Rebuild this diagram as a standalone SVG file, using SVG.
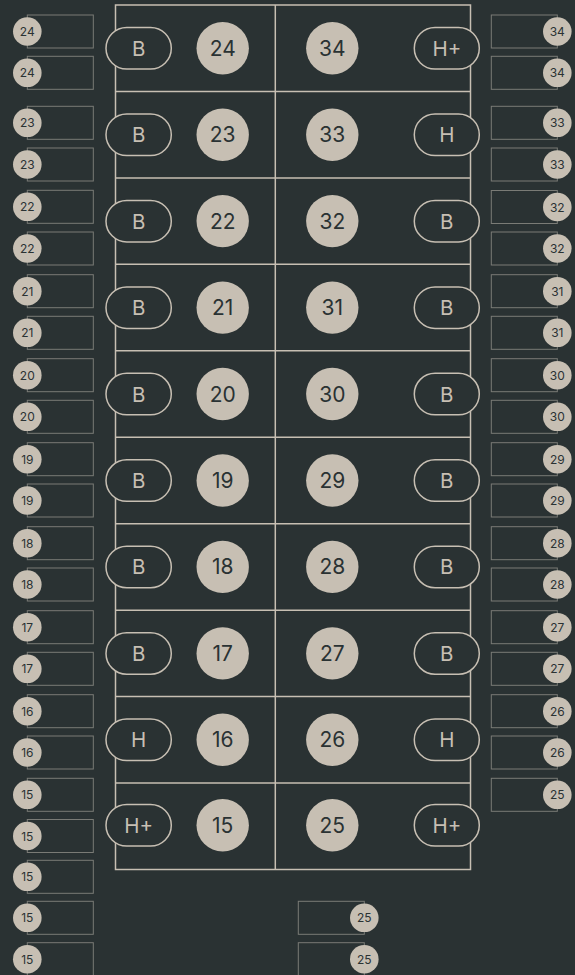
<svg xmlns="http://www.w3.org/2000/svg" width="575" height="975" viewBox="0 0 575 975">
<style>
.bg{fill:#2a3233}
.frame{fill:none;stroke:#c7bfb3;stroke-width:1.5}
.div{stroke:#c7bfb3;stroke-width:1.5}
.pill{fill:#2a3233;stroke:#c7bfb3;stroke-width:1.5}
.ptxt{fill:#c7bfb3;font-family:Inter,"Noto Sans",sans-serif;font-size:20.5px;text-anchor:middle;dominant-baseline:central}
.big{fill:#c7bfb3}
.btxt{fill:#2a3233;font-family:Inter,"Noto Sans",sans-serif;font-size:21px;text-anchor:middle;dominant-baseline:central}
.box{fill:none;stroke:#7a7b76;stroke-width:1}
.sm{fill:#c7bfb3}
.stxt{fill:#2a3233;font-family:Inter,"Noto Sans",sans-serif;font-size:12px;text-anchor:middle;dominant-baseline:central}
</style>
<defs>
<g id="lb"><rect class="box" x="27.3" y="0" width="66" height="33"/><circle class="sm" cx="27.3" cy="16.5" r="14.3"/></g>
<g id="rb"><rect class="box" x="491.3" y="0" width="66" height="33"/><circle class="sm" cx="557.3" cy="16.5" r="14.3"/></g>
<g id="bb"><rect class="box" x="298.3" y="0" width="66" height="33"/><circle class="sm" cx="364.3" cy="16.5" r="14.3"/></g>
</defs>
<rect class="bg" x="0" y="0" width="575" height="975"/>
<g id="connectors">
<rect class="frame" x="115.5" y="5" width="355" height="864.5"/>
<line class="div" x1="275.3" y1="5" x2="275.3" y2="869.5"/>
<line class="div" x1="115.5" y1="91.45" x2="470.5" y2="91.45"/>
<line class="div" x1="115.5" y1="177.9" x2="470.5" y2="177.9"/>
<line class="div" x1="115.5" y1="264.35" x2="470.5" y2="264.35"/>
<line class="div" x1="115.5" y1="350.8" x2="470.5" y2="350.8"/>
<line class="div" x1="115.5" y1="437.25" x2="470.5" y2="437.25"/>
<line class="div" x1="115.5" y1="523.7" x2="470.5" y2="523.7"/>
<line class="div" x1="115.5" y1="610.15" x2="470.5" y2="610.15"/>
<line class="div" x1="115.5" y1="696.6" x2="470.5" y2="696.6"/>
<line class="div" x1="115.5" y1="783.05" x2="470.5" y2="783.05"/>
</g>
<g id="row24"><rect class="pill" x="106" y="27.5" width="65.3" height="41.5" rx="20.75"/><text class="ptxt" x="138.7" y="48.2">B</text><circle class="big" cx="222.7" cy="48.2" r="26.2"/><text class="btxt" x="222.7" y="48.2">24</text><circle class="big" cx="332.3" cy="48.2" r="26.2"/><text class="btxt" x="332.3" y="48.2">34</text><rect class="pill" x="414.3" y="27.5" width="65" height="41.5" rx="20.75"/><text class="ptxt" x="446.8" y="48.2">H+</text></g>
<g id="row23"><rect class="pill" x="106" y="114" width="65.3" height="41.5" rx="20.75"/><text class="ptxt" x="138.7" y="134.7">B</text><circle class="big" cx="222.7" cy="134.7" r="26.2"/><text class="btxt" x="222.7" y="134.7">23</text><circle class="big" cx="332.3" cy="134.7" r="26.2"/><text class="btxt" x="332.3" y="134.7">33</text><rect class="pill" x="414.3" y="114" width="65" height="41.5" rx="20.75"/><text class="ptxt" x="446.8" y="134.7">H</text></g>
<g id="row22"><rect class="pill" x="106" y="200.4" width="65.3" height="41.5" rx="20.75"/><text class="ptxt" x="138.7" y="221.1">B</text><circle class="big" cx="222.7" cy="221.1" r="26.2"/><text class="btxt" x="222.7" y="221.1">22</text><circle class="big" cx="332.3" cy="221.1" r="26.2"/><text class="btxt" x="332.3" y="221.1">32</text><rect class="pill" x="414.3" y="200.4" width="65" height="41.5" rx="20.75"/><text class="ptxt" x="446.8" y="221.1">B</text></g>
<g id="row21"><rect class="pill" x="106" y="286.9" width="65.3" height="41.5" rx="20.75"/><text class="ptxt" x="138.7" y="307.6">B</text><circle class="big" cx="222.7" cy="307.6" r="26.2"/><text class="btxt" x="222.7" y="307.6">21</text><circle class="big" cx="332.3" cy="307.6" r="26.2"/><text class="btxt" x="332.3" y="307.6">31</text><rect class="pill" x="414.3" y="286.9" width="65" height="41.5" rx="20.75"/><text class="ptxt" x="446.8" y="307.6">B</text></g>
<g id="row20"><rect class="pill" x="106" y="373.3" width="65.3" height="41.5" rx="20.75"/><text class="ptxt" x="138.7" y="394">B</text><circle class="big" cx="222.7" cy="394" r="26.2"/><text class="btxt" x="222.7" y="394">20</text><circle class="big" cx="332.3" cy="394" r="26.2"/><text class="btxt" x="332.3" y="394">30</text><rect class="pill" x="414.3" y="373.3" width="65" height="41.5" rx="20.75"/><text class="ptxt" x="446.8" y="394">B</text></g>
<g id="row19"><rect class="pill" x="106" y="459.8" width="65.3" height="41.5" rx="20.75"/><text class="ptxt" x="138.7" y="480.5">B</text><circle class="big" cx="222.7" cy="480.5" r="26.2"/><text class="btxt" x="222.7" y="480.5">19</text><circle class="big" cx="332.3" cy="480.5" r="26.2"/><text class="btxt" x="332.3" y="480.5">29</text><rect class="pill" x="414.3" y="459.8" width="65" height="41.5" rx="20.75"/><text class="ptxt" x="446.8" y="480.5">B</text></g>
<g id="row18"><rect class="pill" x="106" y="546.2" width="65.3" height="41.5" rx="20.75"/><text class="ptxt" x="138.7" y="566.9">B</text><circle class="big" cx="222.7" cy="566.9" r="26.2"/><text class="btxt" x="222.7" y="566.9">18</text><circle class="big" cx="332.3" cy="566.9" r="26.2"/><text class="btxt" x="332.3" y="566.9">28</text><rect class="pill" x="414.3" y="546.2" width="65" height="41.5" rx="20.75"/><text class="ptxt" x="446.8" y="566.9">B</text></g>
<g id="row17"><rect class="pill" x="106" y="632.7" width="65.3" height="41.5" rx="20.75"/><text class="ptxt" x="138.7" y="653.4">B</text><circle class="big" cx="222.7" cy="653.4" r="26.2"/><text class="btxt" x="222.7" y="653.4">17</text><circle class="big" cx="332.3" cy="653.4" r="26.2"/><text class="btxt" x="332.3" y="653.4">27</text><rect class="pill" x="414.3" y="632.7" width="65" height="41.5" rx="20.75"/><text class="ptxt" x="446.8" y="653.4">B</text></g>
<g id="row16"><rect class="pill" x="106" y="719" width="65.3" height="41.5" rx="20.75"/><text class="ptxt" x="138.7" y="739.7">H</text><circle class="big" cx="222.7" cy="739.7" r="26.2"/><text class="btxt" x="222.7" y="739.7">16</text><circle class="big" cx="332.3" cy="739.7" r="26.2"/><text class="btxt" x="332.3" y="739.7">26</text><rect class="pill" x="414.3" y="719" width="65" height="41.5" rx="20.75"/><text class="ptxt" x="446.8" y="739.7">H</text></g>
<g id="row15"><rect class="pill" x="106" y="804.5" width="65.3" height="41.5" rx="20.75"/><text class="ptxt" x="138.7" y="825.2">H+</text><circle class="big" cx="222.7" cy="825.2" r="26.2"/><text class="btxt" x="222.7" y="825.2">15</text><circle class="big" cx="332.3" cy="825.2" r="26.2"/><text class="btxt" x="332.3" y="825.2">25</text><rect class="pill" x="414.3" y="804.5" width="65" height="41.5" rx="20.75"/><text class="ptxt" x="446.8" y="825.2">H+</text></g>
<g id="left-terminals">
<g transform="translate(0,15)"><use href="#lb"/><text class="stxt" x="27.3" y="16.5">24</text></g>
<g transform="translate(0,56.3)"><use href="#lb"/><text class="stxt" x="27.3" y="16.5">24</text></g>
<g transform="translate(0,106.3)"><use href="#lb"/><text class="stxt" x="27.3" y="16.5">23</text></g>
<g transform="translate(0,148)"><use href="#lb"/><text class="stxt" x="27.3" y="16.5">23</text></g>
<g transform="translate(0,190.3)"><use href="#lb"/><text class="stxt" x="27.3" y="16.5">22</text></g>
<g transform="translate(0,232)"><use href="#lb"/><text class="stxt" x="27.3" y="16.5">22</text></g>
<g transform="translate(0,274.7)"><use href="#lb"/><text class="stxt" x="27.3" y="16.5">21</text></g>
<g transform="translate(0,316.3)"><use href="#lb"/><text class="stxt" x="27.3" y="16.5">21</text></g>
<g transform="translate(0,358.7)"><use href="#lb"/><text class="stxt" x="27.3" y="16.5">20</text></g>
<g transform="translate(0,400.3)"><use href="#lb"/><text class="stxt" x="27.3" y="16.5">20</text></g>
<g transform="translate(0,442.7)"><use href="#lb"/><text class="stxt" x="27.3" y="16.5">19</text></g>
<g transform="translate(0,484)"><use href="#lb"/><text class="stxt" x="27.3" y="16.5">19</text></g>
<g transform="translate(0,526.7)"><use href="#lb"/><text class="stxt" x="27.3" y="16.5">18</text></g>
<g transform="translate(0,568)"><use href="#lb"/><text class="stxt" x="27.3" y="16.5">18</text></g>
<g transform="translate(0,610.7)"><use href="#lb"/><text class="stxt" x="27.3" y="16.5">17</text></g>
<g transform="translate(0,652.3)"><use href="#lb"/><text class="stxt" x="27.3" y="16.5">17</text></g>
<g transform="translate(0,694.7)"><use href="#lb"/><text class="stxt" x="27.3" y="16.5">16</text></g>
<g transform="translate(0,736)"><use href="#lb"/><text class="stxt" x="27.3" y="16.5">16</text></g>
<g transform="translate(0,778.3)"><use href="#lb"/><text class="stxt" x="27.3" y="16.5">15</text></g>
<g transform="translate(0,819.5)"><use href="#lb"/><text class="stxt" x="27.3" y="16.5">15</text></g>
<g transform="translate(0,860.3)"><use href="#lb"/><text class="stxt" x="27.3" y="16.5">15</text></g>
<g transform="translate(0,901.3)"><use href="#lb"/><text class="stxt" x="27.3" y="16.5">15</text></g>
<g transform="translate(0,942.7)"><use href="#lb"/><text class="stxt" x="27.3" y="16.5">15</text></g>
</g>
<g id="right-terminals">
<g transform="translate(0,15)"><use href="#rb"/><text class="stxt" x="557.3" y="16.5">34</text></g>
<g transform="translate(0,56.3)"><use href="#rb"/><text class="stxt" x="557.3" y="16.5">34</text></g>
<g transform="translate(0,106.3)"><use href="#rb"/><text class="stxt" x="557.3" y="16.5">33</text></g>
<g transform="translate(0,148)"><use href="#rb"/><text class="stxt" x="557.3" y="16.5">33</text></g>
<g transform="translate(0,190.5)"><use href="#rb"/><text class="stxt" x="557.3" y="16.5">32</text></g>
<g transform="translate(0,232)"><use href="#rb"/><text class="stxt" x="557.3" y="16.5">32</text></g>
<g transform="translate(0,274.7)"><use href="#rb"/><text class="stxt" x="557.3" y="16.5">31</text></g>
<g transform="translate(0,316.3)"><use href="#rb"/><text class="stxt" x="557.3" y="16.5">31</text></g>
<g transform="translate(0,358.7)"><use href="#rb"/><text class="stxt" x="557.3" y="16.5">30</text></g>
<g transform="translate(0,400.3)"><use href="#rb"/><text class="stxt" x="557.3" y="16.5">30</text></g>
<g transform="translate(0,442.7)"><use href="#rb"/><text class="stxt" x="557.3" y="16.5">29</text></g>
<g transform="translate(0,484)"><use href="#rb"/><text class="stxt" x="557.3" y="16.5">29</text></g>
<g transform="translate(0,526.7)"><use href="#rb"/><text class="stxt" x="557.3" y="16.5">28</text></g>
<g transform="translate(0,568)"><use href="#rb"/><text class="stxt" x="557.3" y="16.5">28</text></g>
<g transform="translate(0,610.7)"><use href="#rb"/><text class="stxt" x="557.3" y="16.5">27</text></g>
<g transform="translate(0,652.3)"><use href="#rb"/><text class="stxt" x="557.3" y="16.5">27</text></g>
<g transform="translate(0,694.7)"><use href="#rb"/><text class="stxt" x="557.3" y="16.5">26</text></g>
<g transform="translate(0,736)"><use href="#rb"/><text class="stxt" x="557.3" y="16.5">26</text></g>
<g transform="translate(0,778.3)"><use href="#rb"/><text class="stxt" x="557.3" y="16.5">25</text></g>
</g>
<g id="bottom-terminals">
<g transform="translate(0,901.3)"><use href="#bb"/><text class="stxt" x="364.3" y="16.5">25</text></g>
<g transform="translate(0,942.7)"><use href="#bb"/><text class="stxt" x="364.3" y="16.5">25</text></g>
</g>
</svg>
